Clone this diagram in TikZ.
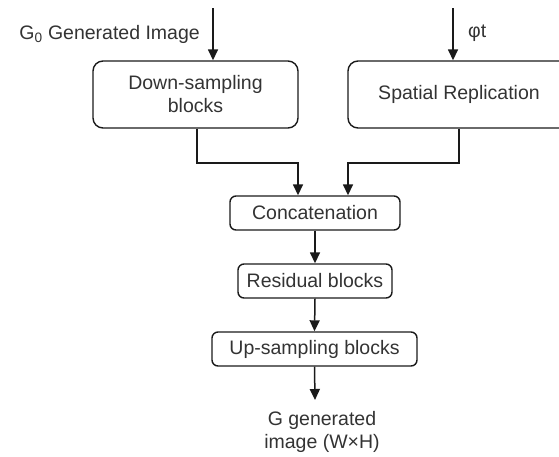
\documentclass[tikz,border=0pt]{standalone}
\usepackage{fontspec}
\setmainfont{Liberation Sans}
\usetikzlibrary{arrows.meta}
\definecolor{txt}{HTML}{333333}
\definecolor{ln}{HTML}{1A1A1A}
\begin{document}
\begin{tikzpicture}[x=1pt,y=-1pt,
  font=\fontsize{19.5}{23}\selectfont,
  box/.style={draw=ln,line width=1.4pt,rounded corners=#1,text=txt,align=center,inner sep=0pt},
  box/.default=6pt,
  lbl/.style={text=txt,inner sep=0pt,align=center},
  conn/.style={draw=ln,line width=1.5pt,-{Triangle[length=11pt,width=10pt]}}]
\useasboundingbox (0,0) rectangle (559,456);
\clip (0,0) rectangle (559,456);
\node[box=10pt,minimum width=205pt,minimum height=67pt] (ds) at (195.5,94.5) {Down-sampling\\blocks};
\node[box=10pt,minimum width=222pt,minimum height=67pt] (sr) at (459,94.5) {Spatial Replication};
\node[box,minimum width=170pt,minimum height=34pt] (cat) at (315,213) {Concatenation};
\node[box,minimum width=154pt,minimum height=34pt] (res) at (315,281) {Residual blocks};
\node[box,minimum width=205pt,minimum height=34pt] (up) at (314.5,349) {Up-sampling blocks};
\coordinate (in1) at (213,8);
\coordinate (in2) at (453,8);
\coordinate (o) at (315,400);
\node[lbl,anchor=east] (l1) at (200,34) {G\textsubscript{0} Generated Image};
\node[lbl,anchor=west] (l2) at (468,33) {φt};
\node[lbl] (out) at (322,432) {G generated\\image (W×H)};
\draw[conn] (in1) -- (in1 |- ds.north);
\draw[conn] (in2) -- (in2 |- sr.north);
\draw[conn] ([xshift=1.5pt]ds.south) -- ++(0,34.5) -| ([xshift=-17pt]cat.north);
\draw[conn] (sr.south) -- ++(0,34.5) -| ([xshift=33pt]cat.north);
\draw[conn] (cat.south) -- (res.north);
\draw[conn] (res.south) -- (up.north);
\draw[conn] (up.south) -- (o);
\end{tikzpicture}
\end{document}
